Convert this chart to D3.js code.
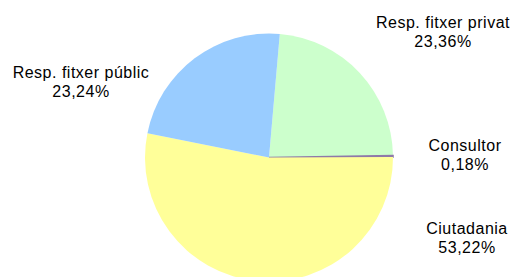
<!DOCTYPE html>
<html>
<head>
<meta charset="utf-8">
<script src="https://cdn.jsdelivr.net/npm/d3@7"></script>
<style>
  body { margin: 0; background: #fff; }
  text { font-family: "Liberation Sans", Arial, sans-serif; font-size: 16px; letter-spacing: 0.5px; fill: #000; }
</style>
</head>
<body>
<div id="chart"></div>
<script>
// data, in drawing order (clockwise from the top)
var categories = ["Resp. fitxer privat", "Consultor", "Ciutadania", "Resp. fitxer públic"];
var values = [23.36, 0.18, 53.22, 23.24];
var colors = ["#ccffcc", "#8f7aa8", "#ffff99", "#99ccff"];

// where each label sits (centre x, first baseline y)
var labelPos = [[443, 28], [465, 151], [467, 234], [81, 78]];

var width = 514, height = 277;
var cx = 269, cy = 157.5, radius = 124;

var svg = d3.select("#chart").append("svg")
  .attr("width", width)
  .attr("height", height);

var pie = d3.pie()
  .sort(null)
  .value(function(d) { return d; })
  .startAngle(5 * Math.PI / 180)
  .endAngle(5 * Math.PI / 180 + 2 * Math.PI);

var arc = d3.arc().innerRadius(0).outerRadius(radius);

var g = svg.append("g")
  .attr("transform", "translate(" + cx + "," + cy + ")");

g.selectAll("path")
  .data(pie(values))
  .enter().append("path")
  .attr("d", arc)
  .attr("fill", function(d, i) { return colors[i]; })
  // the tiny slice gets an outline so it stays visible, as in the original
  .attr("stroke", function(d, i) { return values[i] < 1 ? colors[i] : "none"; })
  .attr("stroke-width", 1.6);

var fmt = function(v) { return v.toFixed(2).replace(".", ",") + "%"; };

var labels = svg.selectAll(".lbl")
  .data(categories)
  .enter().append("text")
  .attr("class", "lbl")
  .attr("text-anchor", "middle")
  .attr("x", function(d, i) { return labelPos[i][0]; })
  .attr("y", function(d, i) { return labelPos[i][1]; });

labels.append("tspan")
  .attr("x", function(d, i) { return labelPos[i][0]; })
  .text(function(d) { return d; });
labels.append("tspan")
  .attr("x", function(d, i) { return labelPos[i][0]; })
  .attr("dy", 18.5)
  .text(function(d, i) { return fmt(values[i]); });
</script>
</body>
</html>
